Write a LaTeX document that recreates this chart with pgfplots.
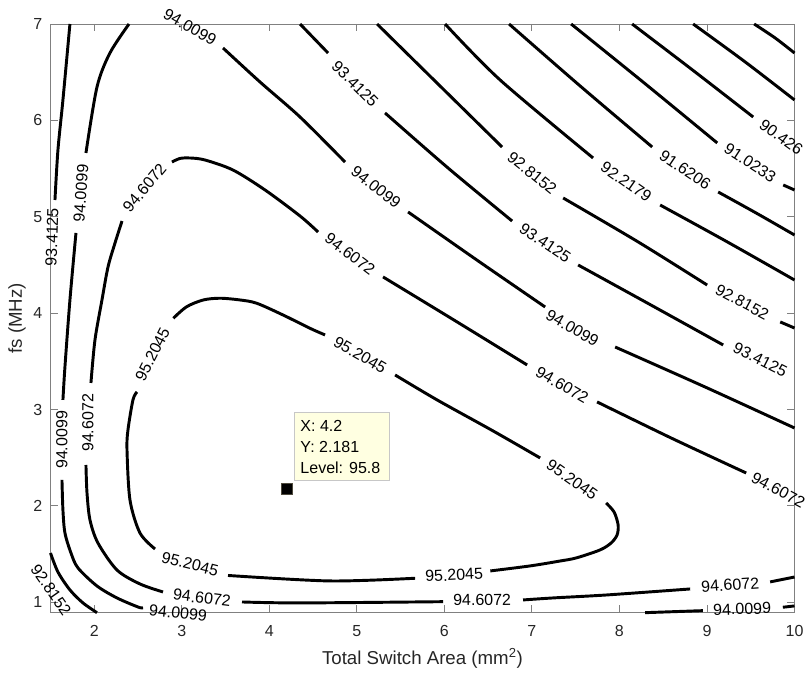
\documentclass[border=0pt]{standalone}
\usepackage{fontspec}
\setmainfont{Liberation Sans}
\usepackage{pgfplots}
\pgfplotsset{compat=1.18}
\definecolor{tipbg}{RGB}{255,255,225}
\definecolor{txt}{RGB}{38,38,38}
\tikzset{
  cl/.style={black, line width=2.2pt, smooth, line join=round},
  lab/.style={font=\fontsize{12}{14}\selectfont, inner sep=0pt, text=black},
}
\begin{document}
\begin{tikzpicture}
\begin{axis}[
  width=558pt, height=441.5pt, scale only axis,
  xmin=1.5, xmax=10, ymin=0.893, ymax=7,
  xtick={2,...,10}, ytick={1,...,7},
  tick align=inside, major tick length=5.6pt,
  axis line style={black!50, line width=0.7pt},
  tick style={black!50, line width=0.7pt},
  /pgf/number format/assume math mode=true,
  ticklabel style={font=\fontsize{12}{14}\selectfont, text=txt},
  xticklabel style={anchor=base, yshift=-17.5pt},
  yticklabel style={anchor=east, inner sep=0pt, xshift=-5.9pt},
  xlabel={Total Switch Area (mm\textsuperscript{2})},
  ylabel={fs (MHz)},
  label style={font=\fontsize{14}{16}\selectfont, text=txt},
  xlabel style={at={(axis description cs:0.5,-0.0888)}, anchor=base},
  ylabel style={at={(axis description cs:-0.0384,0.5)}, anchor=base},
  clip=false,
]
% upper right family
\addplot[cl] coordinates {(9.539,7) (9.779,6.855) (10,6.699)};
\addplot[cl] coordinates {(8.842,7) (9.437,6.606) (10,6.212)};
\addplot[cl] coordinates {(8.145,7) (8.839,6.520) (9.528,6.035)};
\node[lab, rotate=-36] at (axis cs:9.848,5.828) {90.426};
\addplot[cl] coordinates {(7.448,7) (8.279,6.391) (9.117,5.766)};
\node[lab, rotate=-33] at (axis cs:9.494,5.558) {91.0233};
\addplot[cl] coordinates {(9.871,5.330) (10,5.278)};
\addplot[cl] coordinates {(6.739,7) (7.551,6.357) (8.374,5.724)};
\node[lab, rotate=-34] at (axis cs:8.751,5.485) {91.6206};
\addplot[cl] coordinates {(9.128,5.257) (9.562,5.039) (10,4.811)};
\addplot[cl] coordinates {(6.008,7) (6.637,6.419) (7.699,5.610)};
\node[lab, rotate=-35] at (axis cs:8.077,5.361) {92.2179};
\addplot[cl] coordinates {(8.465,5.122) (9.227,4.742) (10,4.344)};
\addplot[cl] coordinates {(5.231,7) (5.939,6.367) (6.659,5.724)};
\node[lab, rotate=-39] at (axis cs:7.002,5.454) {92.8152};
\addplot[cl] coordinates {(7.357,5.195) (8.214,4.739) (9.002,4.292)};
\node[lab, rotate=-28] at (axis cs:9.402,4.116) {92.8152};
\addplot[cl] coordinates {(9.837,3.909) (10,3.846)};
% 93.4125
\addplot[cl] coordinates {(4.351,7) (4.671,6.699)};
\node[lab, rotate=-45] at (axis cs:4.979,6.378) {93.4125};
\addplot[cl] coordinates {(5.322,6.077) (6.042,5.506) (6.774,4.956)};
\node[lab, rotate=-34] at (axis cs:7.151,4.728) {93.4125};
\addplot[cl] coordinates {(7.528,4.500) (8.359,4.085) (9.185,3.670)};
\node[lab, rotate=-27] at (axis cs:9.608,3.515) {93.4125};
\addplot[cl] coordinates {(1.722,7) (1.642,6.212) (1.585,5.693) (1.551,5.174)};
\node[lab, rotate=88] at (axis cs:1.517,4.790) {93.4125};
% 94.0099
\node[lab, rotate=-30] at (axis cs:3.094,6.969) {94.0099};
\addplot[cl] coordinates {(3.471,6.751) (3.894,6.398) (4.351,6.035) (4.865,5.568)};
\node[lab, rotate=-38] at (axis cs:5.219,5.309) {94.0099};
\addplot[cl] coordinates {(5.585,5.050) (6.370,4.552) (7.151,4.064)};
\node[lab, rotate=-30] at (axis cs:7.462,3.846) {94.0099};
\addplot[cl] coordinates {(7.951,3.649) (8.979,3.234) (10,2.809)};
\addplot[cl] coordinates {(2.397,7) (2.179,6.699) (2.031,6.346) (1.905,5.662)};
\node[lab, rotate=86] at (axis cs:1.848,5.247) {94.0099};
\addplot[cl] coordinates {(1.791,4.832) (1.722,4.137) (1.665,3.442) (1.642,3.100)};
\node[lab, rotate=90] at (axis cs:1.631,2.685) {94.0099};
\addplot[cl] coordinates {(1.631,2.270) (1.642,1.958) (1.665,1.720) (1.734,1.512)
  (1.814,1.357) (2.031,1.170) (2.259,1.046) (2.499,0.952) (2.557,0.942)};
\node[lab, rotate=-6] at (axis cs:2.957,0.890) {94.0099};
\addplot[cl] coordinates {(8.294,0.893) (8.953,0.914)};
\node[lab, rotate=2] at (axis cs:9.402,0.932) {94.0099};
\addplot[cl] coordinates {(9.867,0.949) (10,0.963)};
% 94.6072
\addplot[cl] coordinates {(2.888,5.568) (2.979,5.605) (3.094,5.610) (3.265,5.589)
  (3.585,5.485) (3.951,5.278) (4.351,5.008) (4.557,4.842)};
\node[lab, rotate=-37] at (axis cs:4.922,4.614) {94.6072};
\addplot[cl] coordinates {(5.299,4.376) (6.122,3.922) (6.945,3.463)};
\node[lab, rotate=-30] at (axis cs:7.345,3.255) {94.6072};
\addplot[cl] coordinates {(7.745,3.079) (8.591,2.705) (9.448,2.342)};
\node[lab, rotate=-28] at (axis cs:9.814,2.166) {94.6072};
\node[lab, rotate=50] at (axis cs:2.574,5.299) {94.6072};
\addplot[cl] coordinates {(2.317,4.956) (2.237,4.728) (2.157,4.479) (2.088,4.137)
  (2.008,3.722) (1.962,3.276)};
\node[lab, rotate=90] at (axis cs:1.928,2.861) {94.6072};
\addplot[cl] coordinates {(1.905,2.425) (1.917,2.135) (1.951,1.855) (2.042,1.616)
  (2.259,1.336) (2.522,1.191) (2.785,1.108)};
\node[lab, rotate=-7] at (axis cs:3.231,1.046) {94.6072};
\addplot[cl] coordinates {(3.688,1.004) (4.351,0.994) (5.985,1.007)};
\node[lab, rotate=1] at (axis cs:6.431,1.025) {94.6072};
\addplot[cl] coordinates {(6.899,1.025) (7.245,1.046) (7.859,1.077) (8.808,1.139)};
\node[lab, rotate=4] at (axis cs:9.265,1.180) {94.6072};
\addplot[cl] coordinates {(9.722,1.212) (10,1.263)};
% 92.8152 lower left
\addplot[cl] coordinates {(1.5,1.512) (1.585,1.315) (1.722,1.129) (1.871,0.994) (2.031,0.893)};
\node[lab, rotate=-55] at (axis cs:1.505,1.129) {92.8152};
% 95.2045
\addplot[cl] coordinates {(2.903,3.947) (3.056,4.067) (3.246,4.137) (3.437,4.155)
  (3.665,4.137) (3.856,4.103) (4.157,3.981) (4.465,3.843) (4.637,3.774)};
\node[lab, rotate=-30] at (axis cs:5.037,3.566) {95.2045};
\addplot[cl] coordinates {(5.437,3.359) (5.917,3.100) (6.557,2.778) (7.094,2.498)};
\node[lab, rotate=-35] at (axis cs:7.459,2.270) {95.2045};
\addplot[cl] coordinates {(7.848,2.031) (7.939,1.937) (7.985,1.803) (7.973,1.699)
  (7.905,1.616) (7.779,1.544) (7.507,1.461) (7.322,1.429) (6.979,1.378) (6.525,1.326)};
\node[lab, rotate=3] at (axis cs:6.111,1.284) {95.2045};
\addplot[cl] coordinates {(5.665,1.250) (4.694,1.222) (3.528,1.279)};
\node[lab, rotate=-14] at (axis cs:3.094,1.398) {95.2045};
\addplot[cl] coordinates {(2.694,1.554) (2.522,1.720) (2.408,2.062) (2.374,2.581)
  (2.385,2.788) (2.442,3.100) (2.488,3.183)};
\node[lab, rotate=63] at (axis cs:2.665,3.572) {95.2045};
% data tip
\addplot[only marks, mark=square*, mark size=4pt,
  mark options={fill=black, draw=black!80!yellow, line width=0.4pt}]
  coordinates {(4.2,2.181)};
\node[draw=black!22, fill=tipbg, line width=0.7pt, anchor=south west,
  text width=62.6pt, align=flush left, inner xsep=4.3pt, inner ysep=5.6pt,
  font=\fontsize{12}{15.75}\selectfont, text=black]
  at ([xshift=5.6pt,yshift=5.4pt]axis cs:4.2,2.181)
  {X: 4.2\\Y: 2.181\\Level: 95.8};
\end{axis}
\pgfresetboundingbox
\path[use as bounding box] (-37.875pt,-45.225pt) rectangle (566.625pt,459.5pt);
\end{tikzpicture}
\end{document}
